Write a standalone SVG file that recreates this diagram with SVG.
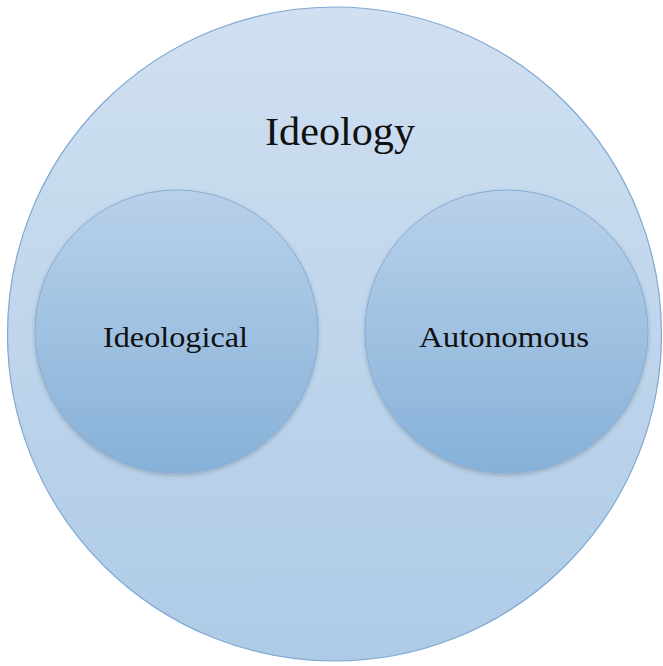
<svg xmlns="http://www.w3.org/2000/svg" width="663" height="666" viewBox="0 0 663 666">
<style>
.lbl{font-family:"Liberation Serif","DejaVu Serif",serif;fill:#111;text-anchor:middle}
.inner{fill:url(#gi);stroke:#86acd6;stroke-width:1}
</style>
<defs>
<linearGradient id="go" x1="0" y1="0" x2="0" y2="1">
<stop offset="0" stop-color="#d0e0f1"/>
<stop offset="1" stop-color="#aecbe6"/>
</linearGradient>
<linearGradient id="gi" x1="0" y1="0" x2="0" y2="1">
<stop offset="0" stop-color="#b9d1ea"/>
<stop offset="1" stop-color="#86b1d8"/>
</linearGradient>
<filter id="sh" x="-10%" y="-10%" width="120%" height="125%">
<feDropShadow dx="0" dy="2" stdDeviation="2" flood-color="#000" flood-opacity="0.2"/>
</filter>
</defs>
<rect width="663" height="666" fill="#ffffff"/>
<g id="ideology">
<circle cx="334.5" cy="334" r="327" fill="url(#go)" stroke="#7fa8d4" stroke-width="1.2"/>
<text class="lbl" x="340" y="145" font-size="40" textLength="150" lengthAdjust="spacingAndGlyphs">Ideology</text>
</g>
<g id="ideological">
<circle class="inner" cx="176.5" cy="331.5" r="141.5" filter="url(#sh)"/>
<text class="lbl" x="175.5" y="347" font-size="30" textLength="145" lengthAdjust="spacingAndGlyphs">Ideological</text>
</g>
<g id="autonomous">
<circle class="inner" cx="506.5" cy="331.5" r="141.5" filter="url(#sh)"/>
<text class="lbl" x="504" y="347" font-size="30" textLength="170" lengthAdjust="spacingAndGlyphs">Autonomous</text>
</g>
<g id="connectors"/>
</svg>
